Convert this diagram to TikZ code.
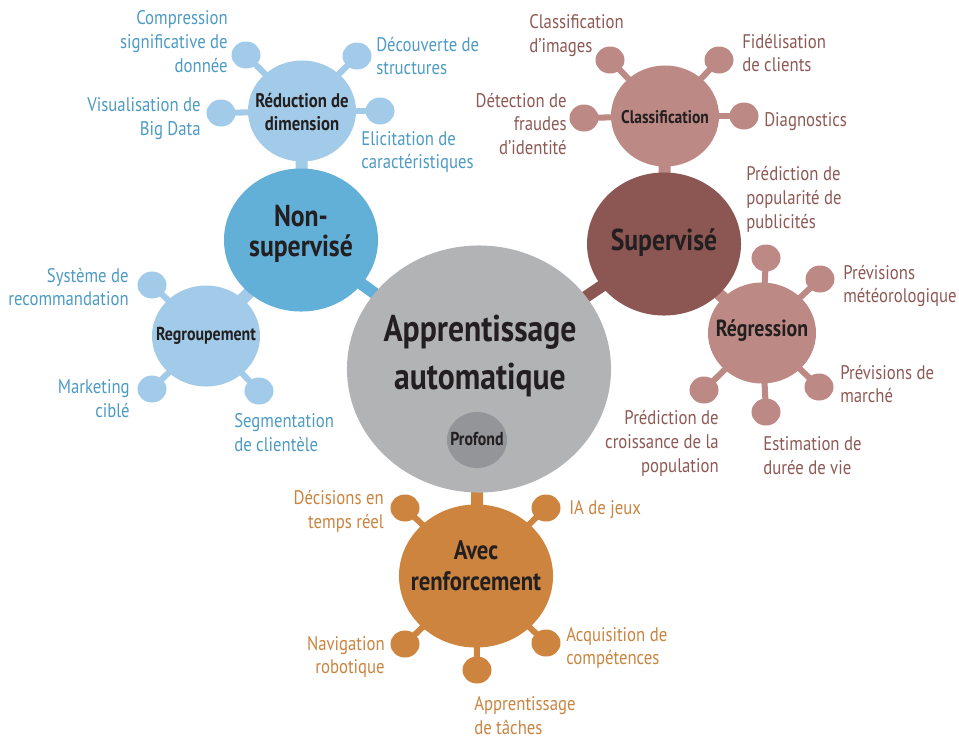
\documentclass[tikz,border=0pt]{standalone}
\usepackage{fontspec}
\setmainfont{PT Sans}[FakeStretch=0.85]
\usetikzlibrary{shapes.geometric,backgrounds}
\definecolor{nsupblue}{HTML}{62AFD8}
\definecolor{paleblue}{HTML}{A1CBE8}
\definecolor{bluetext}{HTML}{4D9AC3}
\definecolor{supbrown}{HTML}{8C5753}
\definecolor{rosebrown}{HTML}{BD8985}
\definecolor{browntext}{HTML}{8D5955}
\definecolor{renforange}{HTML}{CC843E}
\definecolor{orangetext}{HTML}{C9843F}
\definecolor{maingrey}{HTML}{B1B3B5}
\definecolor{deepgrey}{HTML}{939598}
\definecolor{darktext}{HTML}{231F20}
\begin{document}
\begin{tikzpicture}[x=0.025cm,y=-0.025cm,
    blob/.style={ellipse,inner sep=0pt},
    big node/.style={blob,minimum width=3.85cm,minimum height=3.575cm},
    mid node/.style={blob,minimum width=2.7cm,minimum height=2.525cm},
    leaf/.style={ellipse,inner sep=0pt,fill=#1,minimum width=0.725cm,minimum height=0.675cm},
    title/.style={text=darktext,align=center,inner sep=0pt,font=\bfseries#1},
    leaf text/.style={inner sep=0pt,font=\fontsize{14}{17}\selectfont},
    thick link/.style={line width=8.5pt,draw=#1},
    thin link/.style={line width=4.3pt,draw=#1}
  ]
  \useasboundingbox (0,0) rectangle (959,739);

  \node[big node,fill=maingrey,minimum width=6.6cm,minimum height=6.175cm] (ml) at (479,369) {};
  \node[blob,fill=deepgrey,minimum width=1.5cm,minimum height=1.4cm] (deep) at (477,440) {};
  \node[big node,fill=nsupblue] (nsup) at (301,240) {};
  \node[mid node,fill=paleblue] (red) at (302,111) {};
  \node[mid node,fill=paleblue] (regr) at (206,336) {};
  \node[big node,fill=supbrown] (sup) at (664,244) {};
  \node[mid node,fill=rosebrown] (clas) at (665,116) {};
  \node[mid node,fill=rosebrown] (regs) at (762,333) {};
  \node[big node,fill=renforange] (avec) at (476,576) {};

  \node[title=\fontsize{26.5}{34}\selectfont] (mltitle) at (480,356) {Apprentissage\\automatique};
  \node[title=\fontsize{13.3}{15}\selectfont] (deeptitle) at (477,439) {Profond};
  \node[title=\fontsize{21.5}{21.5}\selectfont] (nsuptitle) at (301,234) {Non-\\supervisé};
  \node[title=\fontsize{14}{16.5}\selectfont] (redtitle) at (302,112) {Réduction de\\dimension};
  \node[title=\fontsize{13.3}{16}\selectfont] (regrtitle) at (206,336) {Regroupement};
  \node[title=\fontsize{21.5}{22}\selectfont] (suptitle) at (664,243) {Supervisé};
  \node[title=\fontsize{13}{15}\selectfont] (clastitle) at (665,117) {Classification};
  \node[title=\fontsize{16.6}{18}\selectfont] (regstitle) at (762,331) {Régression};
  \node[title=\fontsize{19}{22}\selectfont] (avectitle) at (476,566) {Avec\\renforcement};

  \node[leaf=paleblue] (red1) at (246,55) {};
  \node[leaf=paleblue] (red2) at (357,56) {};
  \node[leaf=paleblue] (red3) at (221,113) {};
  \node[leaf=paleblue] (red4) at (380,111) {};
  \node[leaf=paleblue] (regr1) at (152,285) {};
  \node[leaf=paleblue] (regr2) at (152,389) {};
  \node[leaf=paleblue] (regr3) at (259,391) {};

  \node[leaf=rosebrown] (clas1) at (610,60) {};
  \node[leaf=rosebrown] (clas2) at (719,60) {};
  \node[leaf=rosebrown] (clas3) at (584,118) {};
  \node[leaf=rosebrown] (clas4) at (744,116) {};
  \node[leaf=rosebrown] (regs1) at (766,258) {};
  \node[leaf=rosebrown] (regs2) at (820,279) {};
  \node[leaf=rosebrown] (regs3) at (704,390) {};
  \node[leaf=rosebrown] (regs4) at (819,387) {};
  \node[leaf=rosebrown] (regs5) at (766,412) {};

  \node[leaf=renforange] (avec1) at (405,508) {};
  \node[leaf=renforange] (avec2) at (546,508) {};
  \node[leaf=renforange] (avec3) at (405,644) {};
  \node[leaf=renforange] (avec4) at (546,643) {};
  \node[leaf=renforange] (avec5) at (477,670) {};

  \begin{scope}[leaf text,text=bluetext]
    \node[anchor=east,align=right] (lcomp) at (228,42) {Compression\\significative de\\donnée};
    \node[anchor=east,align=right] (lvisu) at (201,119) {Visualisation de\\Big Data};
    \node[anchor=west,align=left] (ldecou) at (376,56) {Découverte de\\structures};
    \node[anchor=west,align=left] (lelic) at (361,152) {Elicitation de\\caractéristiques};
    \node[anchor=east,align=right] (lsyst) at (129,287) {Système de\\recommandation};
    \node[anchor=east,align=right] (lmark) at (130,399) {Marketing\\ciblé};
    \node[anchor=west,align=left] (lsegm) at (234,433) {Segmentation\\de clientèle};
  \end{scope}

  \begin{scope}[leaf text,text=browntext]
    \node[anchor=west,align=left] (lclim) at (529,36) {Classification\\d’images};
    \node[anchor=east,align=right] (ldetec) at (567,124) {Détection de\\fraudes\\d’identité};
    \node[anchor=west,align=left] (lfide) at (742,53) {Fidélisation\\de clients};
    \node[anchor=west,align=left] (ldiag) at (764,122) {Diagnostics};
    \node[anchor=west,align=left] (lpopu) at (746,199) {Prédiction de\\popularité de\\publicités};
    \node[anchor=west,align=left] (lmeteo) at (843,286) {Prévisions\\météorologique};
    \node[anchor=west,align=left] (lmarche) at (840,384) {Prévisions de\\marché};
    \node[anchor=east,align=right] (lcrois) at (719,443) {Prédiction de\\croissance de la\\population};
    \node[anchor=west,align=left] (lduree) at (763,456) {Estimation de\\durée de vie};
  \end{scope}

  \begin{scope}[leaf text,text=orangetext]
    \node[anchor=east,align=right] (ldecis) at (384,511) {Décisions en\\temps réel};
    \node[anchor=west,align=left] (ljeux) at (569,510) {IA de jeux};
    \node[anchor=east,align=right] (lnavi) at (385,657) {Navigation\\robotique};
    \node[anchor=west,align=left] (lacqu) at (566,648) {Acquisition de\\compétences};
    \node[anchor=west,align=left] (ltach) at (474,716) {Apprentissage\\de tâches};
  \end{scope}

  \begin{pgfonlayer}{background}
    \path
     (ml.center) edge [thick link=nsupblue] (nsup.center)
     (ml.center) edge [thick link=supbrown] (sup.center)
     (ml.center) edge [thick link=renforange] (avec.center)
     (nsup.center) edge [thick link=paleblue] (red.center)
     (nsup.center) edge [thick link=paleblue] (regr.center)
     (sup.center) edge [thick link=rosebrown] (clas.center)
     (sup.center) edge [thick link=rosebrown] (regs.center);
    \path
     (red.center) edge [thin link=paleblue] (red1.center)
     (red.center) edge [thin link=paleblue] (red2.center)
     (red.center) edge [thin link=paleblue] (red3.center)
     (red.center) edge [thin link=paleblue] (red4.center)
     (regr.center) edge [thin link=paleblue] (regr1.center)
     (regr.center) edge [thin link=paleblue] (regr2.center)
     (regr.center) edge [thin link=paleblue] (regr3.center)
     (clas.center) edge [thin link=rosebrown] (clas1.center)
     (clas.center) edge [thin link=rosebrown] (clas2.center)
     (clas.center) edge [thin link=rosebrown] (clas3.center)
     (clas.center) edge [thin link=rosebrown] (clas4.center)
     (regs.center) edge [thin link=rosebrown] (regs1.center)
     (regs.center) edge [thin link=rosebrown] (regs2.center)
     (regs.center) edge [thin link=rosebrown] (regs3.center)
     (regs.center) edge [thin link=rosebrown] (regs4.center)
     (regs.center) edge [thin link=rosebrown] (regs5.center)
     (avec.center) edge [thin link=renforange] (avec1.center)
     (avec.center) edge [thin link=renforange] (avec2.center)
     (avec.center) edge [thin link=renforange] (avec3.center)
     (avec.center) edge [thin link=renforange] (avec4.center)
     (avec.center) edge [thin link=renforange] (avec5.center);
  \end{pgfonlayer}
\end{tikzpicture}
\end{document}
